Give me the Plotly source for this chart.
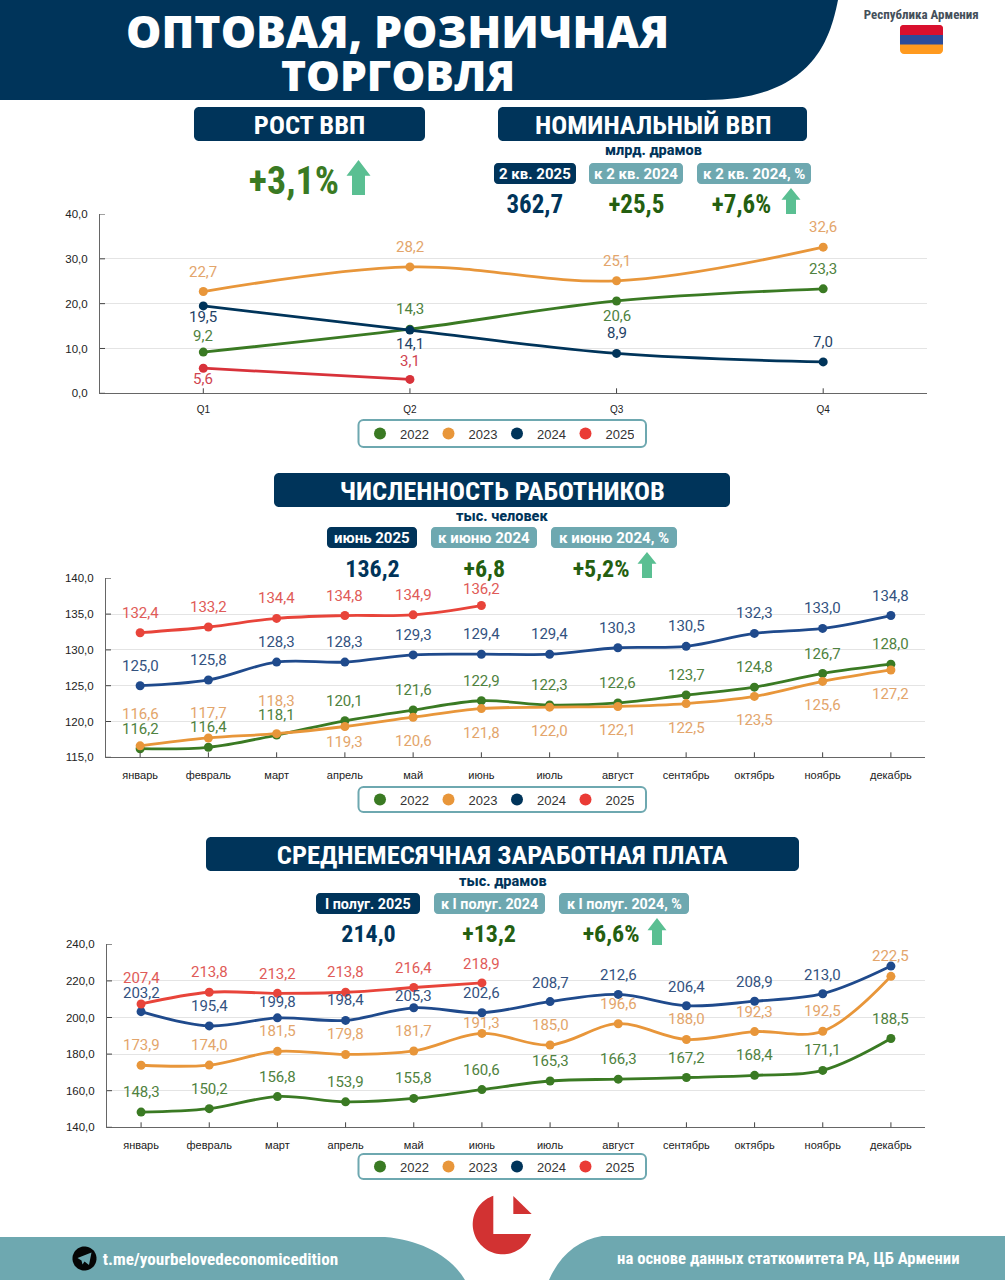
import numpy as np
import plotly.graph_objects as go

W, H = 1005, 1280
NAVY = "#00345a"
TEAL = "#6ea8b0"
MINT = "#5abf92"
NARROW = "Roboto"
GREEN_DARK = "#245f10"

# ---------- data ----------
quarters = ["Q1", "Q2", "Q3", "Q4"]
months = ["январь", "февраль", "март", "апрель", "май", "июнь", "июль", "август",
          "сентябрь", "октябрь", "ноябрь", "декабрь"]
years = ["2022", "2023", "2024", "2025"]

gdp_2022 = [9.2, 14.3, 20.6, 23.3]
gdp_2023 = [22.7, 28.2, 25.1, 32.6]
gdp_2024 = [19.5, 14.1, 8.9, 7.0]
gdp_2025 = [5.6, 3.1]

emp_2022 = [116.2, 116.4, 118.1, 120.1, 121.6, 122.9, 122.3, 122.6, 123.7, 124.8, 126.7, 128.0]
emp_2023 = [116.6, 117.7, 118.3, 119.3, 120.6, 121.8, 122.0, 122.1, 122.5, 123.5, 125.6, 127.2]
emp_2024 = [125.0, 125.8, 128.3, 128.3, 129.3, 129.4, 129.4, 130.3, 130.5, 132.3, 133.0, 134.8]
emp_2025 = [132.4, 133.2, 134.4, 134.8, 134.9, 136.2]

wage_2022 = [148.3, 150.2, 156.8, 153.9, 155.8, 160.6, 165.3, 166.3, 167.2, 168.4, 171.1, 188.5]
wage_2023 = [173.9, 174.0, 181.5, 179.8, 181.7, 191.3, 185.0, 196.6, 188.0, 192.3, 192.5, 222.5]
wage_2024 = [203.2, 195.4, 199.8, 198.4, 205.3, 202.6, 208.7, 212.6, 206.4, 208.9, 213.0, 228.1]
wage_2025 = [207.4, 213.8, 213.2, 213.8, 216.4, 218.9]

gdp_ticks = [0, 10, 20, 30, 40]
emp_ticks = [115, 120, 125, 130, 135, 140]
wage_ticks = [140, 160, 180, 200, 220, 240]

# ---------- label placement (pixels from the point, up is negative) ----------
gdp_dy = [[-16, -20, 15, -20], [-20, -20, -20, -20], [11, 14, -20, -20], [11, -18]]
emp_dy = [[-20] * 12,
          [-32, -25, -33, 15, 24, 24, 24, 24, 24, 24, 24, 24],
          [-20] * 12,
          [-20, -20, -20, -20, -20, -17]]
wage_dy = [[-20] * 12,
           [-20, -20, -20, -20, -20, -10, -20, -20, -20, -20, -20, -20],
           [-19, -20, -16, -20, -12, -20, -19, -19, -19, -19, -19, None],
           [-26, -20, -19, -20, -19, -19]]

# ---------- style ----------
line_gdp = ["#3a7a23", "#e8963a", "#00345a", "#d8323a"]
line_rest = ["#3a7a23", "#e8963a", "#1f4a8c", "#e8443a"]
label_gdp = ["#4f8240", "#e3a56b", "#1f4266", "#cf4450"]
label_rest = ["#4f8240", "#e3a56b", "#33527f", "#df5b58"]
legend_colors = ["#3a7a23", "#e8963a", "#00345a", "#ea3b35"]


def px(x):
    return x / W


def py(y):
    return 1 - y / H


def path(cmds):
    out = []
    for c in cmds:
        if c[0] == "Z":
            out.append("Z")
            continue
        vals = list(c[1:])
        pts = [f"{px(vals[i]):.5f},{py(vals[i + 1]):.5f}" for i in range(0, len(vals), 2)]
        out.append(c[0] + " ".join(pts))
    return " ".join(out)


def rrect(x0, y0, x1, y1, r):
    k = r * 0.45
    return [("M", x0 + r, y0), ("L", x1 - r, y0), ("C", x1 - k, y0, x1, y0 + k, x1, y0 + r),
            ("L", x1, y1 - r), ("C", x1, y1 - k, x1 - k, y1, x1 - r, y1),
            ("L", x0 + r, y1), ("C", x0 + k, y1, x0, y1 - k, x0, y1 - r),
            ("L", x0, y0 + r), ("C", x0, y0 + k, x0 + k, y0, x0 + r, y0), ("Z",)]


shapes = []
annos = []


def fill(cmds, color, **kw):
    shapes.append(dict(type="path", xref="paper", yref="paper", path=path(cmds), fillcolor=color,
                       line=dict(width=kw.get("lw", 0), color=kw.get("lc", color)), layer="below"))


def text(x, y, s, size, color, family=NARROW, weight=700):
    annos.append(dict(xref="paper", yref="paper", x=px(x), y=py(y), text=s, showarrow=False,
                      xanchor="center", yanchor="middle",
                      font=dict(family=family, size=size, color=color, weight=weight)))


def arrow(cx, top, bottom, half_head, half_stem):
    neck = top + (bottom - top) * 0.45
    fill([("M", cx, top), ("L", cx + half_head, neck), ("L", cx + half_stem, neck),
          ("L", cx + half_stem, bottom), ("L", cx - half_stem, bottom),
          ("L", cx - half_stem, neck), ("L", cx - half_head, neck), ("Z",)], MINT)


def chip(x0, x1, y0, y1, s, color, size=15):
    fill(rrect(x0, y0, x1, y1, 4), color)
    # weight 701 marks the less condensed text
    text((x0 + x1) / 2, (y0 + y1) / 2 + 0.5, s, size, "white", weight=701)


def arc(cx, cy, r, a0, a1, n=60):
    return [("L", cx + r * np.cos(a), cy + r * np.sin(a)) for a in np.linspace(a0, a1, n)]


# ---------- header ----------
fill([("M", 0, 0), ("L", 838, 0), ("C", 830, 40, 812, 100, 705, 100), ("L", 0, 100), ("Z",)], NAVY)
text(397, 30, "ОПТОВАЯ, РОЗНИЧНАЯ", 44.5, "white", "Open Sans", 800)
text(398, 74, "ТОРГОВЛЯ", 42.5, "white", "Open Sans", 800)
text(921, 14, "Республика Армения", 13, "#44505a")
fill(rrect(900, 25, 943, 54, 4), "#ff9a1f")
fill([("M", 900, 35), ("L", 900, 29), ("C", 900, 26, 901, 25, 904, 25), ("L", 939, 25),
      ("C", 942, 25, 943, 26, 943, 29), ("L", 943, 35), ("Z",)], "#d9102e")
fill([("M", 900, 35), ("L", 943, 35), ("L", 943, 44.5), ("L", 900, 44.5), ("Z",)], "#2b4c9b")

# ---------- section blocks ----------
fill(rrect(194, 107, 425, 141, 5), NAVY)
text(309.5, 124.5, "РОСТ ВВП", 26.5, "white")
text(294, 181, "+3,1%", 38, "#3a7a23")
arrow(358.5, 160, 195, 12, 6.5)

fill(rrect(498, 107, 807, 141, 5), NAVY)
text(652.5, 124.5, "НОМИНАЛЬНЫЙ ВВП", 26.5, "white")
text(653, 150, "млрд. драмов", 14.5, NAVY, weight=800)
chip(494, 576, 163, 184, "2 кв. 2025", NAVY)
chip(589, 683, 163, 184, "к 2 кв. 2024", TEAL)
chip(697, 811, 163, 184, "к 2 кв. 2024, %", TEAL)
text(535, 204, "362,7", 25, NAVY)
text(636, 204, "+25,5", 25, GREEN_DARK)
text(741, 204, "+7,6%", 25, GREEN_DARK)
arrow(791, 188, 214, 9.5, 5)

fill(rrect(274, 473, 730, 507, 5), NAVY)
text(502, 490.5, "ЧИСЛЕННОСТЬ РАБОТНИКОВ", 26.5, "white")
text(502, 516, "тыс. человек", 14.5, NAVY, weight=800)
chip(327, 417, 527, 548, "июнь 2025", NAVY)
chip(431, 537, 527, 548, "к июню 2024", TEAL)
chip(551, 677, 527, 548, "к июню 2024, %", TEAL)
text(372, 569, "136,2", 24, NAVY)
text(484, 569, "+6,8", 24, GREEN_DARK)
text(601, 569, "+5,2%", 24, GREEN_DARK)
arrow(647, 552, 578, 9.5, 5)

fill(rrect(206, 837, 799, 871, 5), NAVY)
text(502.5, 854.5, "СРЕДНЕМЕСЯЧНАЯ ЗАРАБОТНАЯ ПЛАТА", 26.5, "white")
text(503, 881, "тыс. драмов", 14.5, NAVY, weight=800)
chip(316, 420, 893, 914, "I полуг. 2025", NAVY, 14.3)
chip(434, 545, 893, 914, "к I полуг. 2024", TEAL, 14.3)
chip(559, 689, 893, 914, "к I полуг. 2024, %", TEAL, 14.3)
text(368, 934, "214,0", 24, NAVY)
text(489, 934, "+13,2", 24, GREEN_DARK)
text(611, 934, "+6,6%", 24, GREEN_DARK)
arrow(657, 918, 945, 9.5, 5)

# ---------- footer ----------
fill([("M", 0, 1237), ("L", 385, 1237), ("C", 420, 1240, 450, 1255, 465, 1280), ("L", 0, 1280), ("Z",)], TEAL)
fill([("M", 1005, 1236), ("L", 602, 1236), ("C", 578, 1240, 560, 1255, 549, 1280), ("L", 1005, 1280), ("Z",)], TEAL)
text(220, 1259, "t.me/yourbelovedeconomicedition", 17.2, "white")
text(788.5, 1258, "на основе данных статкомитета РА, ЦБ Армении", 16.7, "white")
cx, cy = 84.5, 1258.5
fill([("M", cx + 12, cy)] + arc(cx, cy, 12, 0, 2 * np.pi) + [("Z",)], "#050505")
fill([("M", cx - 7, cy - 0.5), ("L", cx + 7, cy - 6), ("L", cx + 4.5, cy + 6.5), ("L", cx, cy + 3),
      ("L", cx - 2, cy + 6), ("L", cx - 3, cy + 2), ("Z",)], TEAL)

# ---------- logo ----------
lx, ly, lr = 502.7, 1224.3, 30
a0 = np.arctan2(1195.8 - ly, 493.3 - lx)
a1 = np.arctan2(1234 - ly, 531.1 - lx)
fill([("M", 493.3, 1234)] + arc(lx, ly, lr, a0, a1 if a1 < a0 else a1 - 2 * np.pi) + [("Z",)], "#d23232")
fill([("M", 513.3, 1196), ("L", 513.3, 1214), ("L", 531.7, 1214), ("Z",)], "#d23232")


# ---------- charts ----------
def fmt(v):
    return f"{v:.1f}".replace(".", ",")


charts = [
    dict(cats=quarters, series=[gdp_2022, gdp_2023, gdp_2024, gdp_2025], dy=gdp_dy, ticks=gdp_ticks,
         xr=(100, 926.5), yr=(214, 393.3), lines=line_gdp, labels=label_gdp, legend=(420, 447), tick=10),
    dict(cats=months, series=[emp_2022, emp_2023, emp_2024, emp_2025], dy=emp_dy, ticks=emp_ticks,
         xr=(106, 925), yr=(578.3, 757.3), lines=line_rest, labels=label_rest, legend=(787, 812), tick=11),
    dict(cats=months, series=[wage_2022, wage_2023, wage_2024, wage_2025], dy=wage_dy, ticks=wage_ticks,
         xr=(107, 925), yr=(944.3, 1127.3), lines=line_rest, labels=label_rest, legend=(1154, 1179), tick=11),
]

fig = go.Figure()
layout = dict(width=W, height=H, margin=dict(l=0, r=0, t=0, b=0, autoexpand=False), paper_bgcolor="white",
              plot_bgcolor="rgba(0,0,0,0)", separators=", ", showlegend=True, hovermode=False)

for i, ch in enumerate(charts, start=1):
    suf = "" if i == 1 else str(i)
    n = len(ch["cats"])
    layout[f"xaxis{suf}"] = dict(
        domain=[px(ch["xr"][0]), px(ch["xr"][1])], anchor=f"y{suf}", type="category",
        categoryorder="array", categoryarray=ch["cats"], range=[-0.5, n - 0.5], showgrid=False,
        showline=True, linecolor="#666666", linewidth=1, ticks="", ticklabelstandoff=7,
        tickfont=dict(family="Liberation Sans", size=ch["tick"], color="#222222"), zeroline=False)
    layout[f"yaxis{suf}"] = dict(
        domain=[py(ch["yr"][1]), py(ch["yr"][0])], anchor=f"x{suf}",
        range=[ch["ticks"][0], ch["ticks"][-1]], tickvals=ch["ticks"], tickformat=".1f",
        showgrid=True, gridcolor="#e4e4e4", gridwidth=1.2, showline=True, linecolor="#666666", linewidth=1,
        ticks="", ticklabelstandoff=9, zeroline=False,
        tickfont=dict(family="Liberation Sans", size=11.5, color="#222222"))

    # axis tick marks crossing the axis lines
    for c in ch["cats"]:
        shapes.append(dict(type="line", xref=f"x{suf}", yref=f"y{suf}", x0=c, x1=c,
                           ysizemode="pixel", yanchor=ch["ticks"][0], y0=-5, y1=5,
                           line=dict(color="#444444", width=1), layer="above"))
    for t in ch["ticks"]:
        shapes.append(dict(type="line", xref=f"x{suf}", yref=f"y{suf}", y0=t, y1=t,
                           xsizemode="pixel", xanchor=-0.5, x0=-6, x1=5,
                           line=dict(color="#444444", width=1), layer="above"))

    for s, vals in enumerate(ch["series"]):
        fig.add_trace(go.Scatter(
            x=ch["cats"][:len(vals)], y=vals, xaxis=f"x{suf}", yaxis=f"y{suf}", mode="lines+markers",
            line=dict(color=ch["lines"][s], width=2.8, shape="spline", smoothing=1.0),
            marker=dict(color=ch["lines"][s], size=9), showlegend=False, name=years[s]))
        for j, v in enumerate(vals):
            dy = ch["dy"][s][j]
            if dy is None:
                continue
            annos.append(dict(xref=f"x{suf}", yref=f"y{suf}", x=ch["cats"][j], y=v, text=fmt(v),
                              showarrow=False, yshift=-dy, xanchor="center", yanchor="middle",
                              font=dict(family="Roboto", size=15, color=ch["labels"][s])))

    # legend
    top, bot = ch["legend"]
    fill(rrect(358.5, top, 646, bot, 5), "white", lw=2, lc=TEAL)
    leg = "legend" if i == 1 else f"legend{i}"
    for s, y in enumerate(years):
        fig.add_trace(go.Scatter(x=[None], y=[None], xaxis=f"x{suf}", yaxis=f"y{suf}", mode="markers",
                                 marker=dict(color=legend_colors[s], size=12), name=y, legend=leg))
    layout[leg] = dict(orientation="h", x=px(360), y=py((top + bot) / 2), xanchor="left", yanchor="middle",
                       bgcolor="rgba(0,0,0,0)", borderwidth=0, itemsizing="trace", itemwidth=30,
                       entrywidth=23.5, entrywidthmode="pixels", itemclick=False, itemdoubleclick=False,
                       font=dict(family="Liberation Sans", size=13, color="#333333"))

layout["shapes"] = shapes
layout["annotations"] = annos
fig.update_layout(**layout)
post = """
document.body.style.margin='0';document.body.style.overflow='hidden';
document.querySelectorAll('.annotation-text').forEach(function(t){
  if(t.style.fontWeight==='700'){t.style.fontStretch='75%';}
  if(t.style.fontWeight==='701'){t.style.fontStretch='90%';}
});
"""
fig.write_html("out.html", config=dict(displayModeBar=False), post_script=post)
